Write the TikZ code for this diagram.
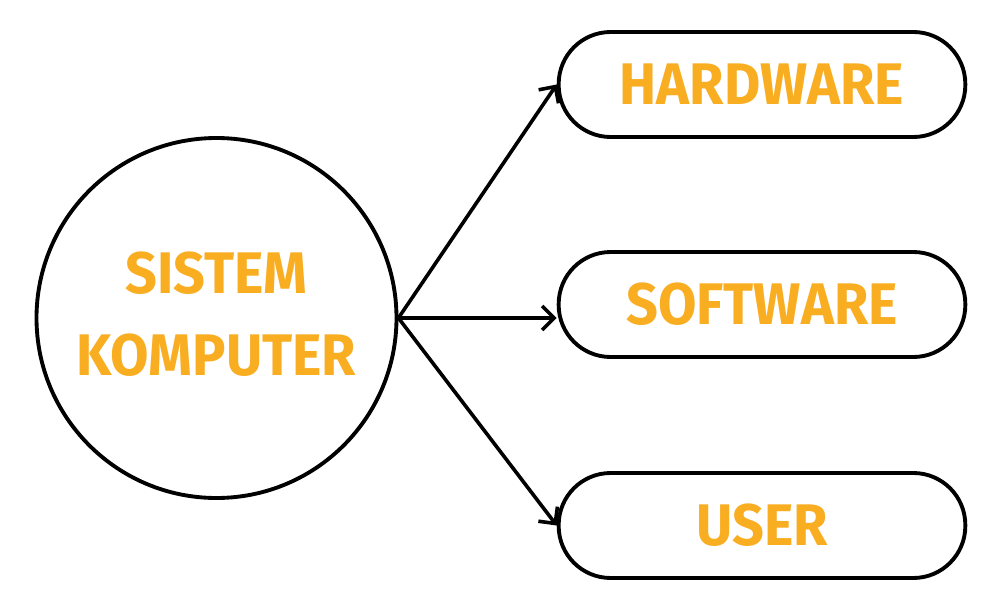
\documentclass[tikz,border=0pt]{standalone}
\usepackage{fontspec}
\setmainfont{Fira Sans}[FakeStretch=0.95]
\usetikzlibrary{arrows.meta}
\definecolor{orangetxt}{RGB}{249,173,33}
\tikzset{
  lbl/.style={text=orangetxt, font=\fontsize{44}{61.5}\selectfont\bfseries},
  pill/.style={draw=black, line width=2.9pt, rectangle, rounded corners=39pt,
    minimum width=305pt, minimum height=78.75pt, inner sep=0pt, fill=white},
  bigcirc/.style={draw=black, line width=2.9pt, circle, minimum size=270pt, inner sep=0pt},
  conn/.style={draw=black, line width=2.7pt, -{Straight Barb[length=9pt,width=18pt,line width=2.7pt]}}
}
\begin{document}
\begin{tikzpicture}[x=0.75pt,y=-0.75pt]
\useasboundingbox (0,0) rectangle (1000,610);
\node[bigcirc] (c) at (216.5,318) {};
\node[lbl, align=center] (ct) at (216.5,314.5) {SISTEM\\KOMPUTER};
\node[pill] (hw) at (762,84.5) {};
\node[lbl] (hwt) at (hw.center) {HARDWARE};
\node[pill] (sw) at (762,304.5) {};
\node[lbl] (swt) at (sw.center) {SOFTWARE};
\node[pill] (us) at (762,525.5) {};
\node[lbl] (ust) at (us.center) {USER};
\coordinate (swin) at (c.east -| sw.west);
\draw[conn] (c.east) -- (hw.west);
\draw[conn] (c.east) -- (swin);
\draw[conn] (c.east) -- (us.west);
\end{tikzpicture}
\end{document}
